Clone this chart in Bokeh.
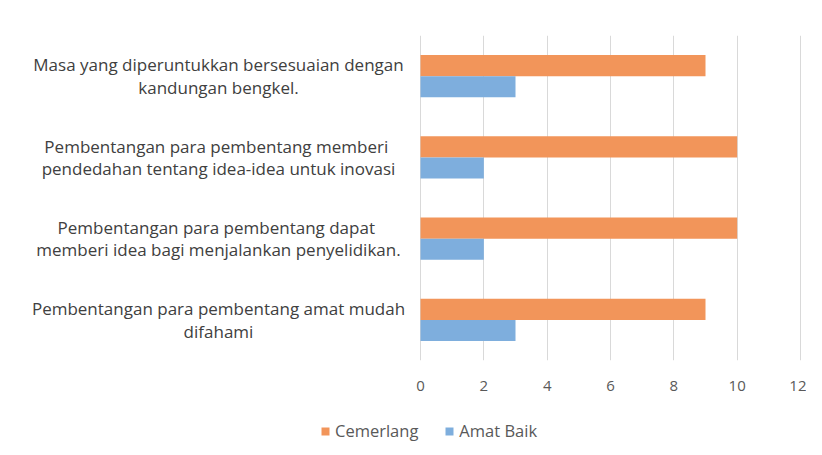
from bokeh.plotting import figure
from bokeh.layouts import column
from bokeh.models import Range1d, FixedTicker, Legend, LegendItem, ColumnDataSource
from bokeh.core.properties import value
from bokeh.embed import file_html
from bokeh.resources import INLINE

categories = [
    "Masa yang diperuntukkan bersesuaian dengan\nkandungan bengkel.",
    "Pembentangan para pembentang  memberi\npendedahan tentang idea-idea untuk inovasi",
    "Pembentangan para pembentang  dapat\nmemberi idea bagi menjalankan penyelidikan.",
    "Pembentangan para pembentang amat mudah\ndifahami",
]
cemerlang = [9, 10, 10, 9]
amat_baik = [3, 2, 2, 3]
x_ticks = [0, 2, 4, 6, 8, 10, 12]
series_names = ["Cemerlang", "Amat Baik"]

FONT = "Open Sans"
ORANGE = "#F2955A"
BLUE = "#7EAEDD"

W = 806
FRAME_L, FRAME_R = 420, 800      # pixel span of 0..12
FRAME_T, FRAME_B = 35, 360
XMAX = 12
scale = (FRAME_R - FRAME_L) / XMAX
x_lo = -FRAME_L / scale
x_hi = XMAX + (W - FRAME_R) / scale

n = len(categories)
pos = [n - i - 0.5 for i in range(n)]
bar_h = 0.26

src = ColumnDataSource(dict(
    y_c=[p + bar_h / 2 for p in pos],
    y_a=[p - bar_h / 2 for p in pos],
    c=cemerlang, a=amat_baik,
))
lab = ColumnDataSource(dict(y=pos, t=categories, x=[(218 - FRAME_L) / scale] * n))

p = figure(frame_width=W, frame_height=FRAME_B - FRAME_T, output_backend="svg", toolbar_location=None,
           x_range=Range1d(x_lo, x_hi), y_range=Range1d(0, n),
           y_axis_location=None,
           min_border_left=0, min_border_right=0, min_border_top=FRAME_T,
           min_border_bottom=35)
p.background_fill_color = "white"
p.border_fill_color = "white"
p.outline_line_color = None

p.hbar(y="y_c", right="c", left=0, height=bar_h, source=src, fill_color=ORANGE, line_color=None)
p.hbar(y="y_a", right="a", left=0, height=bar_h, source=src, fill_color=BLUE, line_color=None)

p.text(x="x", y="y", text="t", source=lab, text_align="center", text_baseline="middle",
       text_font=value(FONT), text_font_size="17px", text_color="#404040",
       text_line_height=0.97)

p.ygrid.visible = False
p.xgrid.ticker = FixedTicker(ticks=x_ticks)
p.xgrid.grid_line_color = "#D9D9D9"
p.xgrid.grid_line_width = 1

ax = p.xaxis[0]
ax.ticker = FixedTicker(ticks=x_ticks)
ax.axis_line_color = None
ax.major_tick_line_color = None
ax.minor_tick_line_color = None
ax.major_label_text_font = FONT
ax.major_label_text_font_size = "15px"
ax.major_label_text_color = "#595959"
ax.major_label_standoff = 14

# legend strip below the chart (same series, drawn outside its visible range)
lg = figure(frame_width=W, frame_height=52, output_backend="svg", toolbar_location=None,
            x_range=Range1d(0, 1), y_range=Range1d(100, 101),
            x_axis_location=None, y_axis_location=None,
            min_border_left=0, min_border_right=0, min_border_top=0, min_border_bottom=0)
lg.outline_line_color = None
lg.grid.visible = False
lg.background_fill_color = "white"
lg.border_fill_color = "white"
e1 = lg.hbar(y="y_c", right="c", left=0, height=bar_h, source=src, fill_color=ORANGE, line_color=None)
e2 = lg.hbar(y="y_a", right="a", left=0, height=bar_h, source=src, fill_color=BLUE, line_color=None)

legend = Legend(items=[LegendItem(label=series_names[0], renderers=[e1]),
                       LegendItem(label=series_names[1], renderers=[e2])],
                orientation="horizontal", location=(320, 5),
                label_text_font=FONT, label_text_font_size="16.5px", label_text_color="#595959",
                glyph_width=10, glyph_height=10, spacing=26, label_standoff=5,
                border_line_color=None, background_fill_alpha=0, margin=0, padding=0)
lg.add_layout(legend, "center")

layout = column(p, lg, spacing=0)
open("out.html", "w").write(file_html(layout, INLINE))
